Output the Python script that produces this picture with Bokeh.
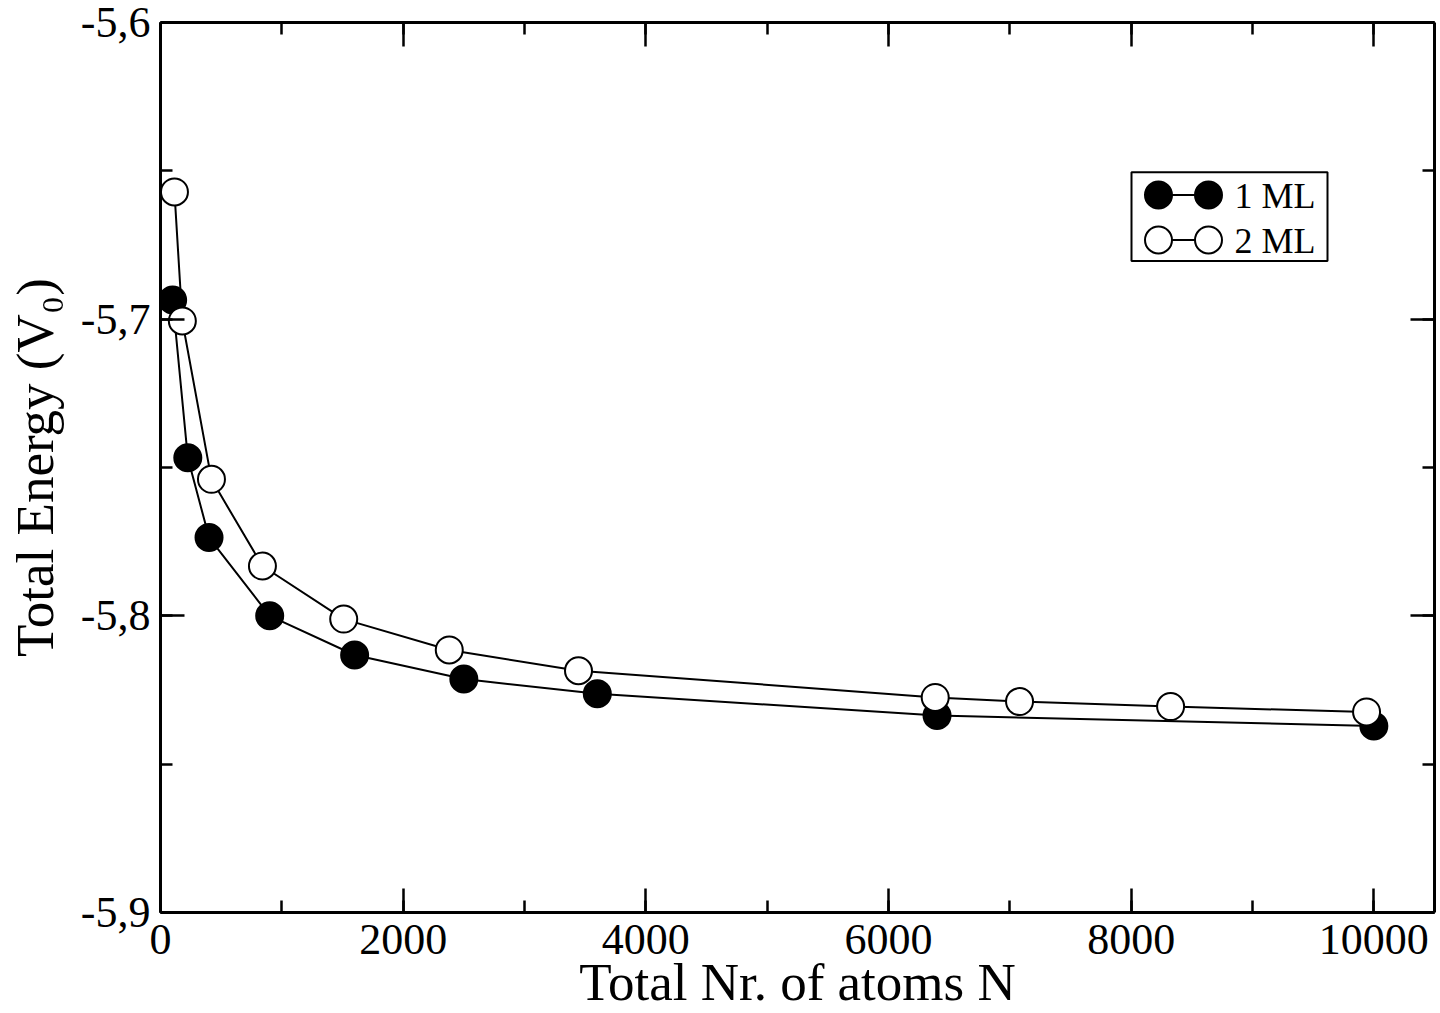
from bokeh.plotting import figure
from bokeh.models import (Range1d, SingleIntervalTicker, LinearAxis, CustomJSTickFormatter,
                          Label, BoxAnnotation)
from bokeh.embed import file_html
from bokeh.resources import INLINE

# ---------------- data ----------------
n_1ml = [100, 225, 400, 900, 1600, 2500, 3600, 6400, 10000]
e_1ml = [-5.6935, -5.7467, -5.7736, -5.8000, -5.8132, -5.8213, -5.8263, -5.8336, -5.8371]

n_2ml = [115, 180, 420, 840, 1510, 2380, 3445, 6385, 7080, 8325, 9940]
e_2ml = [-5.6571, -5.7006, -5.7540, -5.7832, -5.8011, -5.8115, -5.8185, -5.8275, -5.8289,
         -5.8306, -5.8324]

series_names = ["1 ML", "2 ML"]
x_title = "Total Nr. of atoms N"
y_title = "Total Energy (V\u2080)"

X0, X1 = 0, 10500
Y0, Y1 = -5.9, -5.6

FONT = "Liberation Serif"
W, H = 1440, 1013
L, R, T, B = 160, 6, 22, 99
FW = W - L - R
FH = H - T - B


def sx2d(sx):
    return X0 + (sx - L) / FW * (X1 - X0)


def sy2d(sy):
    return Y1 - (sy - T) / FH * (Y1 - Y0)


p = figure(width=W, height=H, output_backend="svg", toolbar_location=None,
           x_range=Range1d(X0, X1), y_range=Range1d(Y0, Y1),
           min_border_left=L, min_border_right=R, min_border_top=T, min_border_bottom=B,
           x_axis_type=None, y_axis_type=None)
p.outline_line_color = None
p.xgrid.visible = False
p.ygrid.visible = False
p.background_fill_color = "white"
p.border_fill_color = "white"


def style_axis(ax, show_labels, standoff=8):
    ax.axis_line_width = 3
    ax.axis_line_color = "black"
    ax.major_tick_in = 24
    ax.major_tick_out = 0
    ax.minor_tick_in = 12
    ax.minor_tick_out = 0
    ax.major_tick_line_width = 2.5
    ax.minor_tick_line_width = 2.5
    ax.major_tick_line_color = "black"
    ax.minor_tick_line_color = "black"
    ax.major_label_text_font = FONT
    ax.major_label_text_color = "black"
    ax.major_label_standoff = standoff
    ax.axis_label_text_font = FONT
    ax.axis_label_text_font_style = "normal"
    ax.axis_label_text_color = "black"
    ax.axis_label_text_font_size = "53px"
    if show_labels:
        ax.major_label_text_font_size = "44px"
    else:
        ax.major_label_text_font_size = "0px"
        ax.major_label_text_alpha = 0


xfmt = CustomJSTickFormatter(code="return tick.toFixed(0);")
yfmt = CustomJSTickFormatter(code="return tick.toFixed(1).replace('.', ',');")

xb = LinearAxis(ticker=SingleIntervalTicker(interval=2000, num_minor_ticks=2), formatter=xfmt,
                axis_label=x_title)
style_axis(xb, True, 12)
xb.axis_label_standoff = -4
p.add_layout(xb, "below")
xt = LinearAxis(ticker=SingleIntervalTicker(interval=2000, num_minor_ticks=2), formatter=xfmt)
style_axis(xt, False, 0)
p.add_layout(xt, "above")
yl = LinearAxis(ticker=SingleIntervalTicker(interval=0.1, num_minor_ticks=2), formatter=yfmt,
                axis_label=y_title)
style_axis(yl, True, 10)
yl.axis_label_standoff = 14
p.add_layout(yl, "left")
yr = LinearAxis(ticker=SingleIntervalTicker(interval=0.1, num_minor_ticks=2), formatter=yfmt)
style_axis(yr, False, 0)
p.add_layout(yr, "right")

# ---------------- series ----------------
MS = 27
p.line(n_1ml, e_1ml, line_color="black", line_width=2)
p.scatter(n_1ml, e_1ml, marker="circle", size=MS, fill_color="black", line_color="black",
          line_width=2)
p.line(n_2ml, e_2ml, line_color="black", line_width=2)
p.scatter(n_2ml, e_2ml, marker="circle", size=MS, fill_color="white", line_color="black",
          line_width=2)

# ---------------- legend (drawn by hand) ----------------
box = BoxAnnotation(left=sx2d(1131), right=sx2d(1327), top=sy2d(172), bottom=sy2d(261),
                    fill_color=None, fill_alpha=0, line_color="black", line_alpha=1,
                    line_width=2)
p.add_layout(box)
leg_rows = [(195, "black"), (240, "white")]
for (sy, fc), name in zip(leg_rows, series_names):
    xs = [sx2d(1158), sx2d(1208)]
    ys = [sy2d(sy), sy2d(sy)]
    p.line(xs, ys, line_color="black", line_width=2)
    p.scatter(xs, ys, marker="circle", size=MS, fill_color=fc, line_color="black", line_width=2)
    p.add_layout(Label(x=sx2d(1234), y=sy2d(sy + 1), text=name, text_font=FONT,
                       text_font_size="36px", text_baseline="middle", text_align="left",
                       text_color="black"))

open("out.html", "w").write(file_html(p, INLINE))
